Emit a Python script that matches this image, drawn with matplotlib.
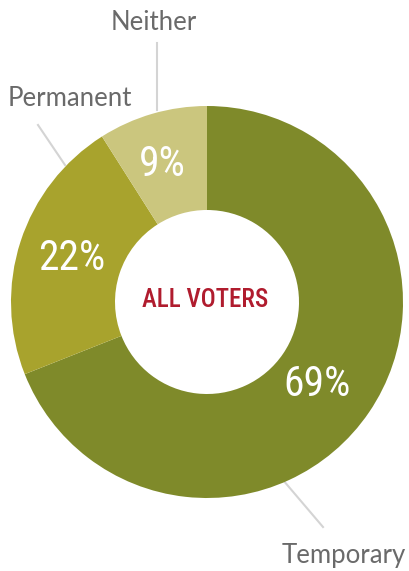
# donut chart: all voters
import matplotlib.pyplot as plt

labels = ["Temporary", "Permanent", "Neither"]
shares = [69, 22, 9]
colors = ["#7f8a2a", "#a8a32d", "#cbc67e"]
center_title = "ALL VOTERS"

W, H = 409, 571

fig = plt.figure(figsize=(W / 100, H / 100), dpi=100)
ax = fig.add_axes([0, 0, 1, 1])

def Y(y):
    return H - y

cx, cy, R = 207, Y(302), 196
wedges, _ = ax.pie(shares, colors=colors, startangle=90, counterclock=False,
                   center=(cx, cy), radius=R, frame=True,
                   wedgeprops=dict(width=R - 92, linewidth=0))
ax.set_xlim(0, W)
ax.set_ylim(0, H)
ax.set_aspect("equal")
ax.axis("off")

narrow = ["Roboto Condensed", "DejaVu Sans"]

# percentages inside the ring
pct_pos = [(317, 384), (72, 259), (162, 164)]
for s, (x, y) in zip(shares, pct_pos):
    ax.text(x, Y(y), f"{s}%", color="white", fontsize=30, family=narrow,
            fontstretch="condensed", ha="center", va="center")

ax.text(205, Y(300), center_title, color="#b01c2e", fontsize=18,
        family=narrow, fontstretch="condensed", fontweight="medium",
        ha="center", va="center")

# outside labels with leader lines
lab_pos = [(344, 556), (70, 98), (154, 23)]
lines = [((283, 480), (323, 527)), ((38, 125), (65, 165)), ((157, 43), (157, 110))]
for lab, (x, y), ((x0, y0), (x1, y1)) in zip(labels, lab_pos, lines):
    ax.plot([x0, x1], [Y(y0), Y(y1)], color="#d4d4d4", lw=1.5, zorder=0)
    ax.text(x, Y(y), lab, color="#6a6a6a", fontsize=18.5, family="Lato",
            ha="center", va="center")

fig.savefig("out.png", dpi=100)
